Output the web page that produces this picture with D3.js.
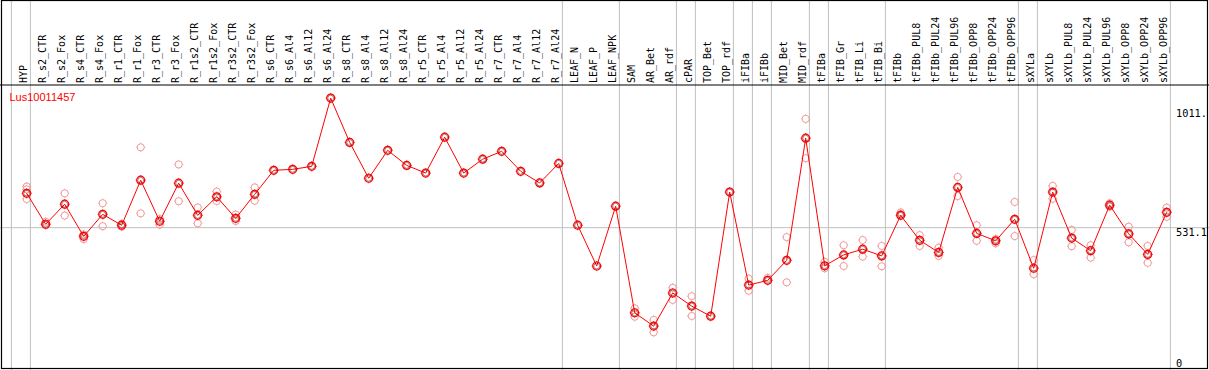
<!DOCTYPE html>
<html>
<head>
<meta charset="utf-8">
<script src="https://cdn.jsdelivr.net/npm/d3@7"></script>
<style>
  body { margin: 0; background: #fff; }
  svg { display: block; }
</style>
</head>
<body>
<div id="wrapper"></div>
<script>
const geneName = "Lus10011457";

const samples = ["HYP", "R_s2_CTR", "R_s2_Fox", "R_s4_CTR", "R_s4_Fox", "R_r1_CTR", "R_r1_Fox",
    "R_r3_CTR", "R_r3_Fox", "R_r1s2_CTR", "R_r1s2_Fox", "R_r3s2_CTR", "R_r3s2_Fox", "R_s6_CTR",
    "R_s6_Al4", "R_s6_Al12", "R_s6_Al24", "R_s8_CTR", "R_s8_Al4", "R_s8_Al12", "R_s8_Al24",
    "R_r5_CTR", "R_r5_Al4", "R_r5_Al12", "R_r5_Al24", "R_r7_CTR", "R_r7_Al4", "R_r7_Al12",
    "R_r7_Al24", "LEAF_N", "LEAF_P", "LEAF_NPK", "SAM", "AR_Bet", "AR_rdf", "cPAR", "TOP_Bet",
    "TOP_rdf", "iFIBa", "iFIBb", "MID_Bet", "MID_rdf", "tFIBa", "tFIB_Gr", "tFIB_Li", "tFIB_Bi",
    "tFIBb", "tFIBb_PUL8", "tFIBb_PUL24", "tFIBb_PUL96", "tFIBb_OPP8", "tFIBb_OPP24", "tFIBb_OPP96",
    "sXYLa", "sXYLb", "sXYLb_PUL8", "sXYLb_PUL24", "sXYLb_PUL96", "sXYLb_OPP8", "sXYLb_OPP24",
    "sXYLb_OPP96"];

// number of samples in each tissue group (separators drawn after each)
const groupSizes = [1, 28, 3, 3, 1, 2, 1, 1, 2, 1, 3, 7, 1, 7];

const means = [670, 545, 626, 496, 585, 541, 723, 557, 711, 581, 656, 569, 666, 763,
    767, 779, 1055, 876, 731, 844, 783, 752, 897, 752, 808, 840, 759, 712,
    791, 541, 376, 618, 187, 133, 267, 214, 173, 675, 299, 318, 399, 893, 377, 421, 444, 417,
    581, 480, 431, 694, 508, 478, 565, 367, 675, 489, 438, 622, 506, 423, 593];

const replicates = [[697, 686, 647], [555, 542], [670, 580], [504, 485], [630, 537], [546, 535],
    [856, 589], [566, 543], [787, 638], [613, 549], [677, 639], [584, 558], [694, 640],
    [], [], [], [], [], [], [], [], [], [], [], [], [], [], [], [], [], [], [],
    [205, 171], [158, 108], [288, 239], [254, 174], [], [], [325, 276], [328], [493, 310],
    [971, 812], [393, 367], [460, 376], [481, 414], [457, 375], [593, 586], [501, 457],
    [450, 417], [736, 659], [541, 478], [485, 468], [635, 497], [400, 343], [700, 648],
    [522, 456], [460, 410], [630, 616], [535, 472], [457, 389], [612, 575]];

const yTicks = [0, 531.1, 1011];
const yTickLabels = ["0", "531.1", "1011."];

const width = 1209, height = 370;
const headerY = 85;

const svg = d3.select("#wrapper").append("svg")
    .attr("width", width)
    .attr("height", height);

const xScale = d3.scalePoint()
    .domain(samples)
    .range([26.7, 1166.7]);
const step = xScale.step();

const yScale = d3.scaleLinear()
    .domain([0, 1011])
    .range([359, 109]);

// vertical group separators
const sepX = [xScale(samples[0]) - step + 3.7];
let acc = 0;
groupSizes.forEach(n => {
    acc += n;
    sepX.push(xScale(samples[acc - 1]) + 3.7);
});
svg.append("g").selectAll("line")
    .data(sepX)
    .join("line")
    .attr("x1", d => d).attr("x2", d => d)
    .attr("y1", 0).attr("y2", height)
    .attr("stroke", "#c0c0c0")
    .attr("stroke-width", 1);

// horizontal reference line
svg.append("line")
    .attr("x1", 0).attr("x2", width)
    .attr("y1", yScale(531.1)).attr("y2", yScale(531.1))
    .attr("stroke", "#c0c0c0");

// frame
svg.append("rect")
    .attr("x", 1.5).attr("y", 0.5)
    .attr("width", 1206).attr("height", 368)
    .attr("fill", "none")
    .attr("stroke", "#000")
    .attr("stroke-width", 1.2);
svg.append("line")
    .attr("x1", 0).attr("x2", width)
    .attr("y1", headerY).attr("y2", headerY)
    .attr("stroke", "#000")
    .attr("stroke-width", 1.2);

// sample labels
svg.append("g").selectAll("text")
    .data(samples)
    .join("text")
    .attr("transform", d => `translate(${xScale(d)},${headerY - 2}) rotate(-90)`)
    .attr("font-family", "DejaVu Sans Mono, monospace")
    .attr("font-size", 10)
    .attr("fill", "#000")
    .text(d => d);

// y labels
svg.append("g").selectAll("text")
    .data(yTicks)
    .join("text")
    .attr("x", 1176)
    .attr("y", d => yScale(d) + 8)
    .attr("font-family", "DejaVu Sans Mono, monospace")
    .attr("font-size", 10.3)
    .attr("fill", "#000")
    .text((d, i) => yTickLabels[i]);

svg.append("text")
    .attr("x", 9.5)
    .attr("y", 101)
    .attr("font-family", "Liberation Sans, Arial, sans-serif")
    .attr("font-size", 11)
    .attr("fill", "#ff0000")
    .text(geneName);

function marker(g, r) {
    g.append("circle").attr("r", r);
    g.append("path")
        .attr("stroke-width", 0.9)
        .attr("d", `M0,${-r - 1}V${-r}M0,${r}V${r + 1}M${-r - 1},0H${-r}M${r},0H${r + 1}`);
}

// replicate points
const repData = [];
replicates.forEach((arr, i) => arr.forEach(v => repData.push({ s: samples[i], v })));
svg.append("g")
    .attr("fill", "none")
    .attr("stroke", "#f29a9a")
    .attr("stroke-width", 1)
    .selectAll("g")
    .data(repData)
    .join("g")
    .attr("transform", d => `translate(${xScale(d.s)},${yScale(d.v)})`)
    .each(function () { marker(d3.select(this), 3.6); });

// mean line
const line = d3.line()
    .x((d, i) => xScale(samples[i]))
    .y(d => yScale(d));
svg.append("path")
    .attr("d", line(means))
    .attr("fill", "none")
    .attr("stroke", "#ff0000")
    .attr("stroke-width", 1);

// mean points
const meanG = svg.append("g")
    .attr("fill", "none")
    .selectAll("g")
    .data(means)
    .join("g")
    .attr("transform", (d, i) => `translate(${xScale(samples[i])},${yScale(d)})`);
meanG.each(function () {
    const g = d3.select(this).attr("stroke", "#ff0000").attr("stroke-width", 1.2);
    marker(g, 4);
    g.append("circle").attr("r", 2.9).attr("stroke", "#600000").attr("stroke-width", 0.5);
});
</script>
</body>
</html>
